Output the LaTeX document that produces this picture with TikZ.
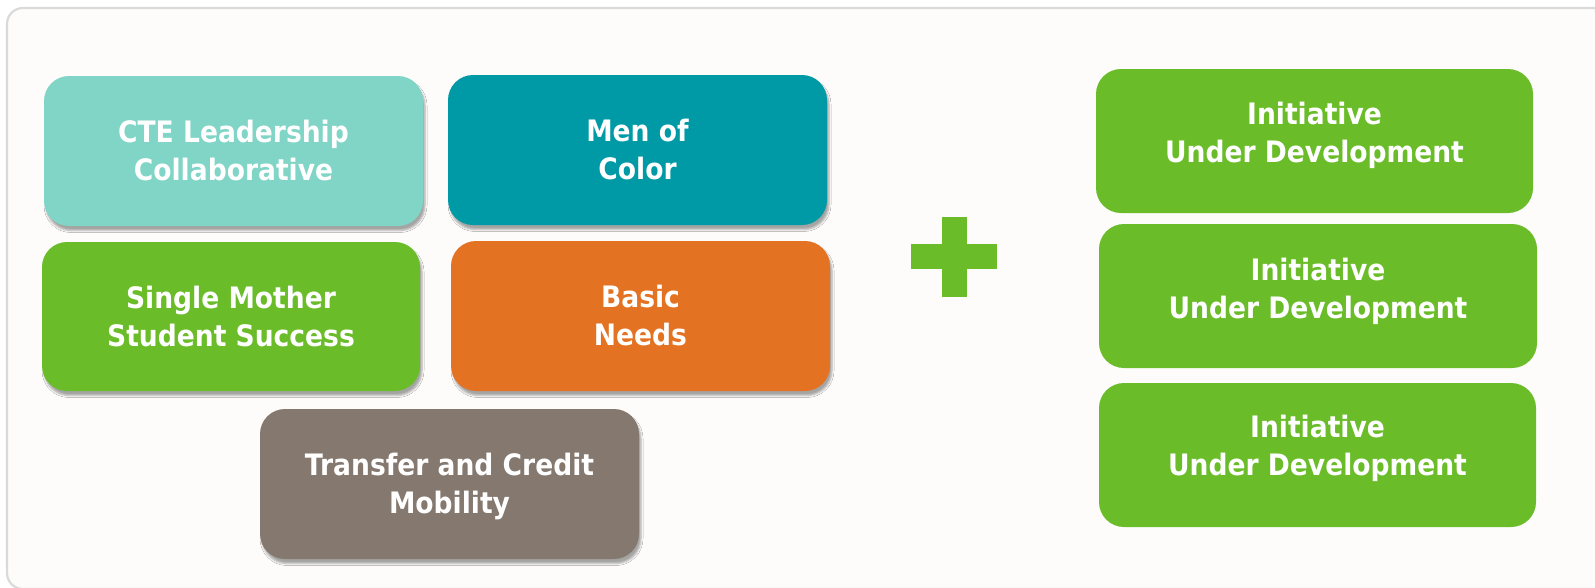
\documentclass[tikz,border=0pt]{standalone}
\usepackage{fontspec}
\setmainfont{DejaVu Sans}[FakeStretch=0.9]
\usetikzlibrary{shadows.blur}
\definecolor{cteC}{HTML}{80D5C6}
\definecolor{menC}{HTML}{009AA6}
\definecolor{limeC}{HTML}{6ABD29}
\definecolor{orangeC}{HTML}{E37222}
\definecolor{taupeC}{HTML}{84786F}
\definecolor{frameC}{HTML}{DADADA}
\definecolor{bgC}{HTML}{FDFCFB}
\tikzset{
  tile/.style={rounded corners=25pt, inner sep=0pt, text=white, align=center,
    text height=59.5pt, text depth=0pt,
    font=\bfseries\fontsize{29.5}{38}\selectfont},
  shadowtile/.style={tile, blur shadow={shadow xshift=2pt, shadow yshift=-4.5pt,
    shadow blur radius=2pt, shadow opacity=35}},
}
\begin{document}
\begin{tikzpicture}[x=1pt,y=-1pt]
\useasboundingbox (0,0) rectangle (1595,587);
\fill[white] (0,0) rectangle (1595,587);
\draw[frameC, fill=bgC, line width=2.2pt, rounded corners=16pt] (7,8) rectangle (1650,589);
% left tiles
\node[shadowtile, fill=cteC, minimum width=379pt, minimum height=150pt] (cte) at (233.5,151) {CTE Leadership\\Collaborative};
\node[shadowtile, fill=menC, minimum width=379pt, minimum height=150pt] (men) at (637.5,150) {Men of\\Color};
\node[shadowtile, fill=limeC, minimum width=378pt, minimum height=149pt] (single) at (231,316.5) {Single Mother\\Student Success};
\node[shadowtile, fill=orangeC, minimum width=379pt, minimum height=150pt] (basic) at (640.5,316) {Basic\\Needs};
\node[shadowtile, fill=taupeC, minimum width=379pt, minimum height=150pt] (transfer) at (449.5,484) {Transfer and Credit\\Mobility};
% plus
\fill[limeC] (911,244) rectangle (997,269);
\fill[limeC] (942,217) rectangle (967,297);
% right tiles
\node[tile, fill=limeC, text depth=16pt, minimum width=437pt, minimum height=144pt] (ini1) at (1314.5,141) {Initiative\\Under Development};
\node[tile, fill=limeC, text depth=14pt, minimum width=438pt, minimum height=144pt] (ini2) at (1318,296) {Initiative\\Under Development};
\node[tile, fill=limeC, text depth=18pt, minimum width=437pt, minimum height=144pt] (ini3) at (1317.5,455) {Initiative\\Under Development};
\end{tikzpicture}
\end{document}
